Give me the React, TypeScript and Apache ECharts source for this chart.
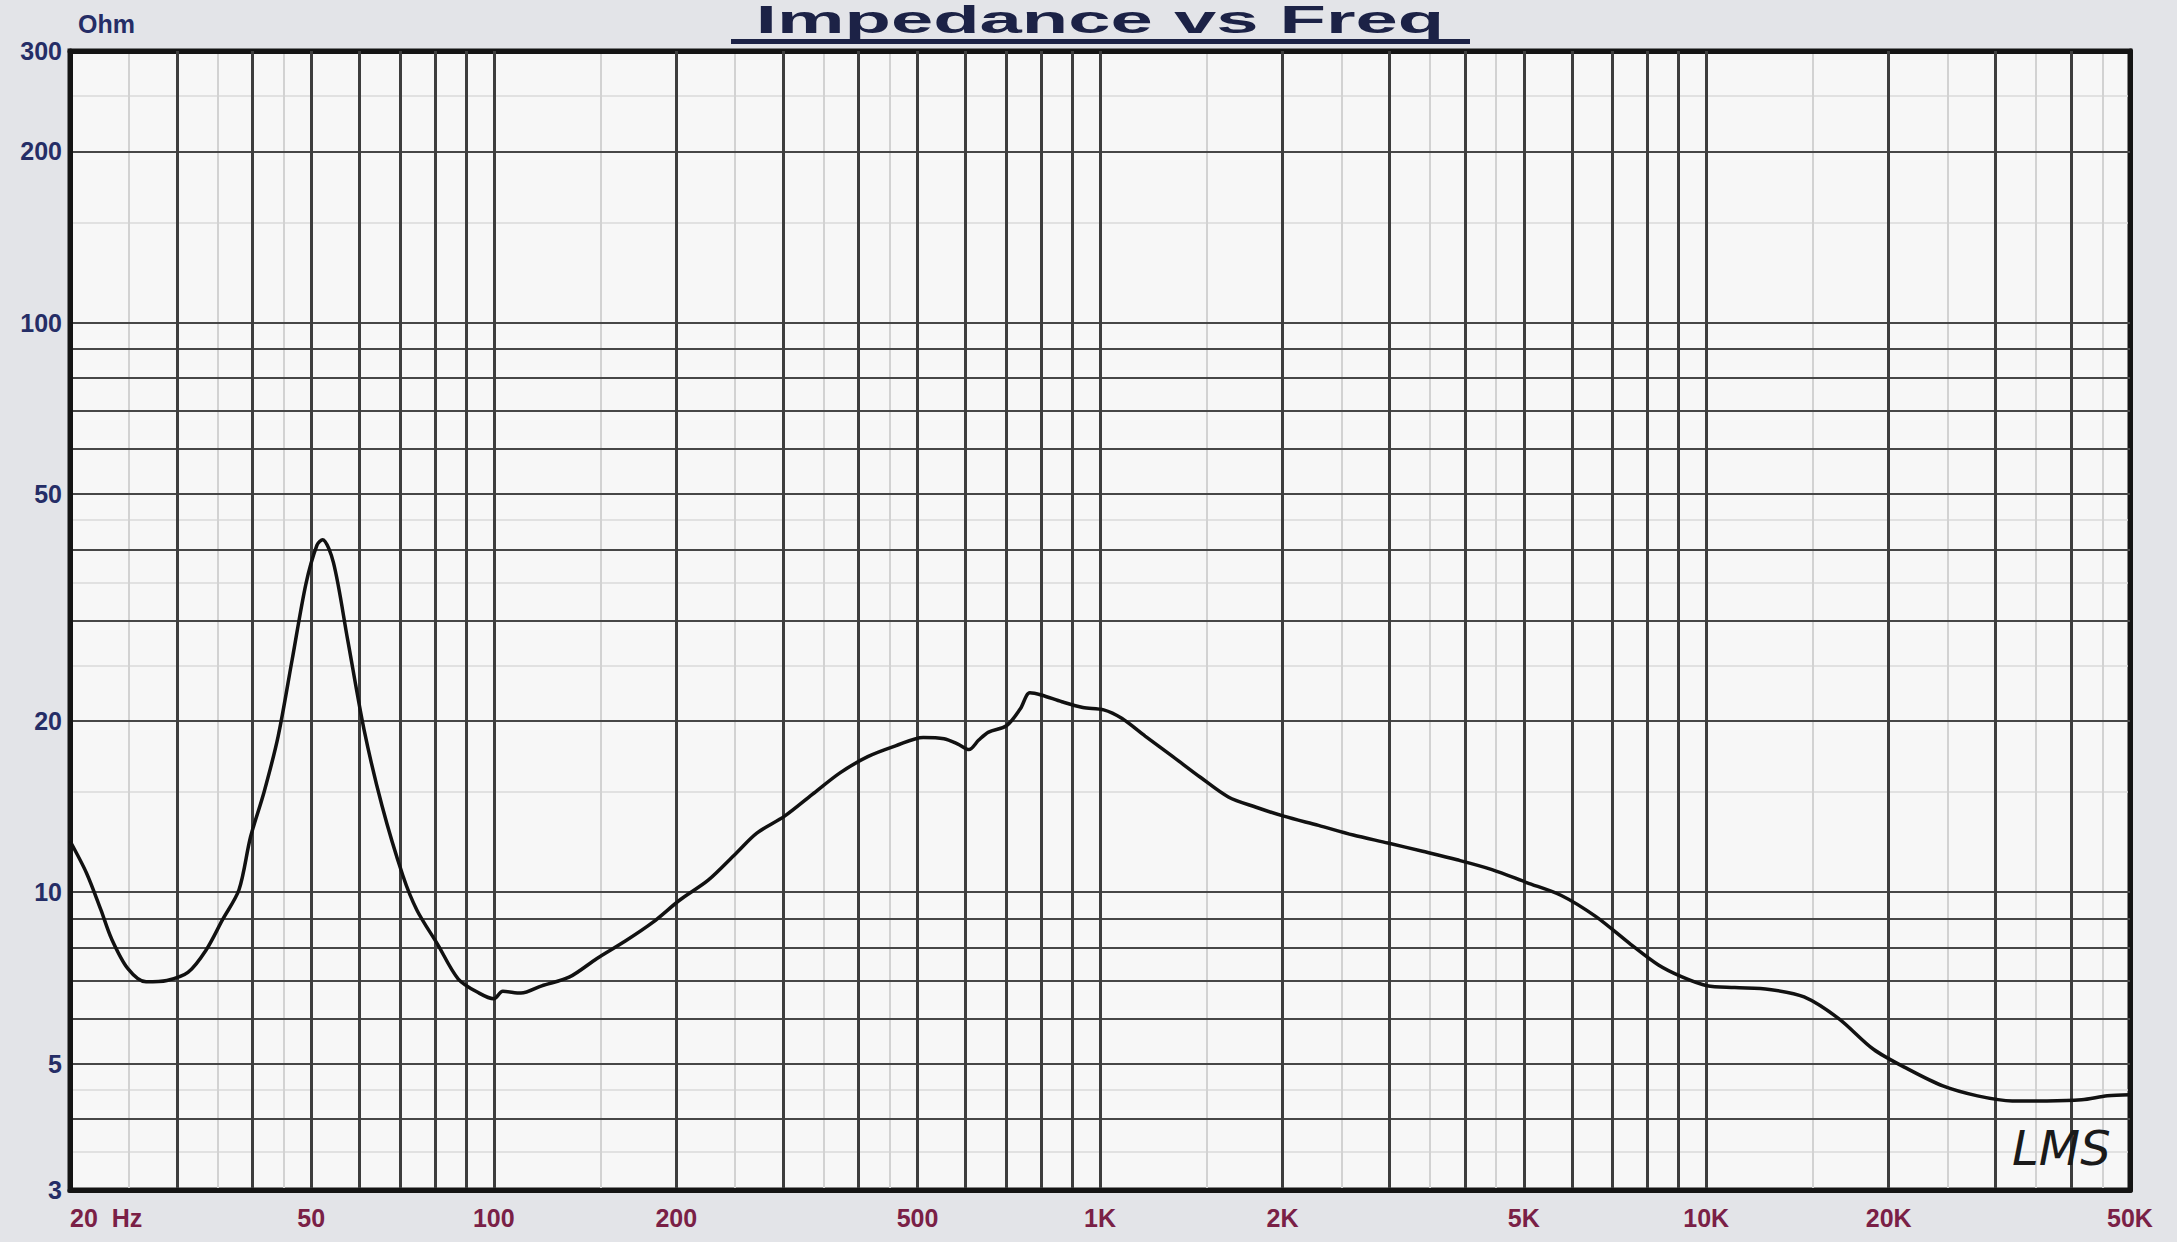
import React, { useEffect, useRef } from "react";
import * as echarts from "echarts";

// Impedance curve (Hz, Ohm)
const freqHz = [
  20, 21.3, 22.5, 23.4, 24.9, 26.7, 28.9, 31.3, 33.5, 35.7, 38.0, 39.7, 41.8, 44.1, 46.5, 49.0,
  51.1, 52.2, 54.4, 57.4, 61.1, 65.4, 70.8, 74.7, 80.8, 87.4, 94.6, 100, 103.5, 110.9, 120,
  133.4, 148, 164.6, 182.9, 203, 225.8, 250.9, 271.6, 301.8, 335.3, 372.5, 413.9, 460, 511,
  553, 583, 608, 631, 655, 701, 739, 766, 800, 865, 937, 1014, 1086, 1187, 1319, 1466, 1628,
  1809, 2010, 2293, 2616, 2985, 3405, 3883, 4431, 5054, 5767, 6578, 7505, 8340, 9120, 10030,
  11140, 12710, 14500, 16540, 18870, 21530, 24560, 28020, 31970, 36470, 41610, 45880, 50000,
];
const impedanceOhm = [
  12.3, 10.8, 9.3, 8.3, 7.35, 6.96, 7.0, 7.23, 7.9, 8.95, 10.1, 12.5, 15.0, 18.8, 25.6, 34.8,
  40.7, 41.6, 37.9, 27.8, 19.3, 14.2, 10.7, 9.3, 8.1, 7.04, 6.65, 6.5, 6.7, 6.65, 6.85,
  7.1, 7.65, 8.2, 8.85, 9.7, 10.5, 11.7, 12.7, 13.6, 14.85, 16.2, 17.3, 18.07, 18.7,
  18.6, 18.2, 17.8, 18.5, 19.1, 19.6, 21.0, 22.4, 22.2, 21.6, 21.1, 20.9, 20.2, 18.8, 17.3, 15.9, 14.7,
  14.1, 13.6, 13.1, 12.6, 12.2, 11.8, 11.4, 10.96, 10.4, 9.87, 9.06, 8.1, 7.45, 7.1, 6.85,
  6.8, 6.75, 6.55, 6.0, 5.3, 4.89, 4.57, 4.39, 4.3, 4.3, 4.32, 4.39, 4.41,
];

// Axis labels
const xLabelValues = [20, 50, 100, 200, 500, 1000, 2000, 5000, 10000, 20000, 50000];
const xLabelTexts = ["20  Hz", "50", "100", "200", "500", "1K", "2K", "5K", "10K", "20K", "50K"];
const yLabelValues = [3, 5, 10, 20, 50, 100, 200, 300];
const yLabelTexts = ["3", "5", "10", "20", "50", "100", "200", "300"];

// Grid lines
const xGridDark = [
  30, 40, 50, 60, 70, 80, 90, 100, 200, 300, 400, 500, 600, 700, 800, 900, 1000, 2000, 3000,
  4000, 5000, 6000, 7000, 8000, 9000, 10000, 20000, 30000, 40000,
];
const xGridLight = [25, 35, 45, 150, 250, 350, 450, 1500, 2500, 3500, 4500, 15000, 25000, 35000, 45000];
const yGridDark = [4, 5, 6, 7, 8, 9, 10, 20, 30, 40, 50, 60, 70, 80, 90, 100, 200];
const yGridLight = [3.5, 4.5, 15, 25, 35, 45, 150, 250];

const X_MIN = 20;
const X_MAX = 50000;
const Y_MIN = 3;
const Y_MAX = 300;

function lookup(values: number[], texts: string[]) {
  return (v: number) => {
    const i = values.findIndex((t) => Math.abs(t - v) / t < 1e-4);
    return i >= 0 ? texts[i] : "";
  };
}

export default function App() {
  const ref = useRef<HTMLDivElement>(null);

  useEffect(() => {
    document.body.style.margin = "0";
    if (!ref.current) return;
    const chart = echarts.init(ref.current, null, { renderer: "svg" });
    const navy = "#252d66";
    const maroon = "#7a2046";
    const font = "'Liberation Sans', Arial, sans-serif";

    const option: any = {
      animation: false,
      backgroundColor: "#e3e4e8",
      grid: {
        left: 70,
        right: 47,
        top: 51,
        bottom: 52,
        show: true,
        backgroundColor: "#f7f7f7",
        borderColor: "#141414",
        borderWidth: 5,
      },
      xAxis: [
        {
          type: "log",
          logBase: 10,
          min: X_MIN,
          max: X_MAX,
          z: 2,
          axisLine: { show: true, lineStyle: { color: "#141414", width: 5 } },
          axisTick: { show: false, customValues: xGridDark },
          splitLine: { show: true, lineStyle: { color: "#3d3d3d", width: 3 } },
          axisLabel: {
            customValues: xLabelValues,
            formatter: lookup(xLabelValues, xLabelTexts),
            color: maroon,
            fontSize: 25,
            fontWeight: "bold",
            fontFamily: font,
            margin: 15,
            alignMinLabel: "left",
            showMinLabel: true,
            showMaxLabel: true,
          },
        },
        {
          type: "log",
          logBase: 10,
          min: X_MIN,
          max: X_MAX,
          position: "top",
          z: 1,
          axisLine: { show: true, lineStyle: { color: "#141414", width: 5 } },
          axisTick: { show: false, customValues: xGridLight },
          axisLabel: { show: false },
          splitLine: { show: true, lineStyle: { color: "#d2d2d2", width: 2 } },
        },
      ],
      yAxis: [
        {
          type: "log",
          logBase: 10,
          min: Y_MIN,
          max: Y_MAX,
          z: 2,
          name: "Ohm",
          nameLocation: "end",
          nameGap: 15,
          nameTextStyle: {
            color: navy,
            fontSize: 25,
            fontWeight: "bold",
            fontFamily: font,
            align: "left",
            padding: [0, 0, 0, 8],
          },
          axisLine: { show: true, lineStyle: { color: "#141414", width: 5 } },
          axisTick: { show: false, customValues: yGridDark },
          splitLine: { show: true, lineStyle: { color: "#474747", width: 2 } },
          axisLabel: {
            customValues: yLabelValues,
            formatter: lookup(yLabelValues, yLabelTexts),
            color: navy,
            fontSize: 25,
            fontWeight: "bold",
            fontFamily: font,
            margin: 8,
            showMinLabel: true,
            showMaxLabel: true,
          },
        },
        {
          type: "log",
          logBase: 10,
          min: Y_MIN,
          max: Y_MAX,
          position: "right",
          z: 1,
          axisLine: { show: true, lineStyle: { color: "#141414", width: 5 } },
          axisTick: { show: false, customValues: yGridLight },
          axisLabel: { show: false },
          splitLine: { show: true, lineStyle: { color: "#dadada", width: 1.5 } },
        },
      ],
      series: [
        {
          type: "line",
          xAxisIndex: 0,
          yAxisIndex: 0,
          data: freqHz.map((f, i) => [f, impedanceOhm[i]]),
          showSymbol: false,
          smooth: 0.3,
          z: 5,
          lineStyle: { color: "#111111", width: 3.5 },
        },
      ],
      graphic: [
        {
          type: "text",
          x: 1100,
          y: 1,
          scaleX: 2.0,
          z: 10,
          style: {
            text: "Impedance vs Freq",
            x: 0,
            y: 0,
            textAlign: "center",
            textVerticalAlign: "top",
            font: "bold 38px 'Liberation Sans', Arial, sans-serif",
            fill: "#1c2246",
          },
        },
        {
          type: "rect",
          z: 10,
          shape: { x: 731, y: 39, width: 739, height: 5 },
          style: { fill: "#1c2246" },
        },
        {
          type: "text",
          z: 10,
          x: 2012,
          y: 1124,
          style: {
            text: "LMS",
            font: "italic 200 48px 'DejaVu Sans', sans-serif",
            fill: "#1a1a1a",
          },
        },
      ],
    };
    chart.setOption(option);
    return () => chart.dispose();
  }, []);

  return (
    <div
      ref={ref}
      style={{ position: "absolute", left: 0, top: 0, width: 2177, height: 1242 }}
    />
  );
}
